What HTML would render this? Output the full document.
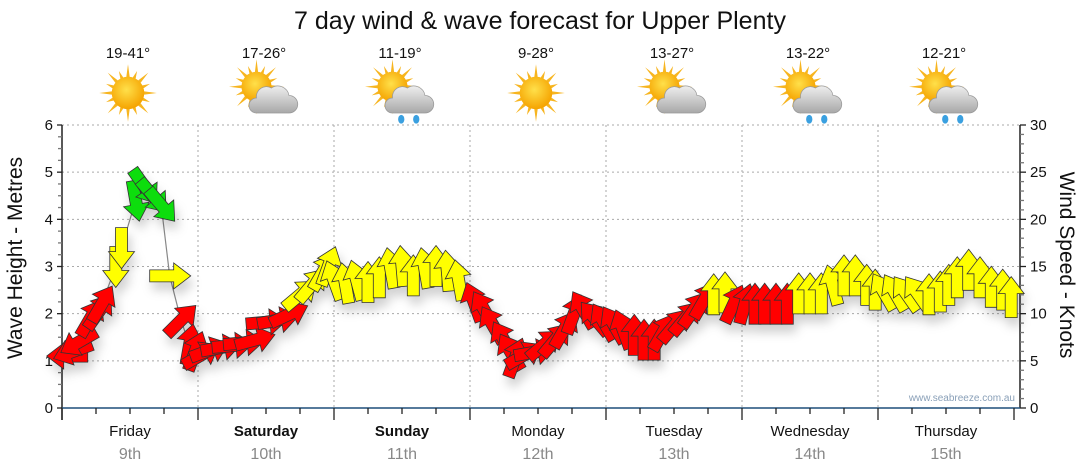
<!DOCTYPE html>
<html><head><meta charset="utf-8">
<style>
html,body{margin:0;padding:0;background:#fff;}
svg{display:block;font-family:"Liberation Sans",Arial,sans-serif;}
</style></head>
<body>
<svg id="chart" width="1080" height="475" viewBox="0 0 1080 475">
<defs>
<filter id="sh" x="-50%" y="-50%" width="200%" height="200%">
<feDropShadow dx="3" dy="8" stdDeviation="5" flood-color="#000" flood-opacity="0.18"/>
</filter>
<radialGradient id="sunG" cx="0.45" cy="0.4" r="0.6"><stop offset="0" stop-color="#ffe04a"/><stop offset="1" stop-color="#f5a300"/></radialGradient>
<linearGradient id="cloudG" x1="0" y1="0" x2="0" y2="1"><stop offset="0" stop-color="#eeeeee"/><stop offset="1" stop-color="#a8a8a8"/></linearGradient>
</defs>
<text x="540" y="29" text-anchor="middle" font-size="25" fill="#111">7 day wind &amp; wave forecast for Upper Plenty</text>
<g id="topg"></g>
<g id="grid"></g>
<g id="axes"></g>
<polyline id="windline" fill="none" stroke="#888" stroke-width="1.2"/>
<g id="arrows" filter="url(#sh)"></g>
<text x="1015" y="401" text-anchor="end" font-size="10" fill="#8aa0b8">www.seabreeze.com.au</text>
<text transform="translate(22,258) rotate(-90)" text-anchor="middle" font-size="21" fill="#111">Wave Height - Metres</text>
<text transform="translate(1060,265) rotate(90)" text-anchor="middle" font-size="21" fill="#111">Wind Speed - Knots</text>
</svg>
<script>
var days=["Friday","Saturday","Sunday","Monday","Tuesday","Wednesday","Thursday"];
var dates=["9th","10th","11th","12th","13th","14th","15th"];
var temps=["19-41°","17-26°","11-19°","9-28°","13-27°","13-22°","12-21°"];
var icons=["sun","suncloud","rain","sun","suncloud","rain","rain"];
var waveTicks=[0,1,2,3,4,5,6];
var windTicks=[0,5,10,15,20,25,30];
var hours=[1,2,3,5,6.5,7,9.5,10.5,13,14.5,16,17.5,19,21,22.5,23.5,
24.5,26,28,30,32,34,36,38,40,42,44,46,47,
48,50,52,54,56,58,60,62,64,66,68,70,
72.7,74.5,76,78,79.2,80,81.5,83.3,85,87,88.6,90.3,92,94,95.6,
97.4,99,101,102.7,104.5,106,108,110,111.5,113.3,115,117,
118.5,120.5,122.3,124,126,128,130,132,134,136,138,140,142,143.5,
145,147,149,151,153,155,156.5,158,160,162,164,166,167.5];
var speeds=[5.5,6,7,9.5,10.2,11,15,17,22,23.5,22.5,21.5,14,9.3,6.7,6,
5.6,6.1,6.4,6.6,6.9,7.2,9.1,9.3,9.9,12,13,14.4,15,
13.5,13.2,13.5,13.3,13.8,14.8,15,14,14.8,15,14.5,13.5,
11.2,10.4,8.8,7.2,5.9,5.3,5.6,5.9,6.7,7.2,8.3,9.9,10.4,9.5,9.1,
8.8,8.3,7.7,7.2,7.2,8,8.7,9.5,10.4,11.4,12,12.2,
11,11,11,11,11,11,12.1,12.1,12.1,13,14,14,13,12.5,
12.3,12.2,12.1,12.1,12,12.3,13,13.8,14.6,13.8,12.8,12.5,11.7];
var dirs=[270,250,240,30,35,30,180,180,170,145,140,140,90,45,10,20,
60,70,80,85,85,75,85,80,65,50,40,30,20,
340,350,345,0,0,350,355,0,350,0,355,350,
340,330,330,330,330,20,60,80,50,40,30,20,330,320,330,
330,340,0,0,0,30,40,40,35,30,0,0,
25,15,0,0,0,0,0,0,0,345,0,0,0,0,
330,330,325,325,0,0,0,0,0,0,0,0,0];

var NS="http://www.w3.org/2000/svg";
var X0=62,DW=136,Y0=408,YT=125;
function xT(h){return X0+h/24*DW;}
function yW(m){return Y0-(Y0-YT)*m/6;}
function yK(k){return Y0-(Y0-YT)*k/30;}
function mk(tag,attrs,parent){var e=document.createElementNS(NS,tag);for(var k in attrs)e.setAttribute(k,attrs[k]);parent.appendChild(e);return e;}
var topG=document.getElementById('topg'),grid=document.getElementById('grid'),axes=document.getElementById('axes');

waveTicks.forEach(function(v){if(v===0)return;
 var l=mk('line',{x1:X0,x2:1020,y1:yW(v),y2:yW(v),stroke:'#aaa','stroke-dasharray':'2,3'},grid);
 
 
});
for(var d=1;d<7;d++){
 var l=mk('line',{x1:X0+d*DW,x2:X0+d*DW,y1:YT,y2:Y0,stroke:'#aaa','stroke-dasharray':'2,3'},grid);
 
 
}
mk('line',{x1:X0,x2:X0,y1:YT,y2:Y0+12,stroke:'#222','stroke-width':1.5},axes);
mk('line',{x1:1020,x2:1020,y1:YT,y2:Y0,stroke:'#222','stroke-width':1.5},axes);
var xa=mk('line',{x1:X0,x2:1020,y1:Y0,y2:Y0,stroke:'#1f4f7a','stroke-width':1.5},axes);


for(var m=0;m<=24;m++){var yy=Y0-(Y0-YT)*m/24;
 mk('line',{x1:X0-(m%4===0?5:4),x2:X0,y1:yy,y2:yy,stroke:m%4===0?'#222':'#777','stroke-width':1.3},axes);}
for(var k=0;k<=30;k++){var yy2=yK(k);
 mk('line',{x1:1020,x2:1020+(k%5===0?6:4),y1:yy2,y2:yy2,stroke:k%5===0?'#222':'#777','stroke-width':1.3},axes);}
waveTicks.forEach(function(v){
 var t=mk('text',{x:X0-9,y:yW(v)+5,'text-anchor':'end','font-size':15,fill:'#111'},axes);t.textContent=v;
 
 
});
windTicks.forEach(function(v){
 var t=mk('text',{x:1030,y:yK(v)+5,'text-anchor':'start','font-size':15,fill:'#111'},axes);t.textContent=v;
 
 
});
for(var h=0;h<=168;h+=6){var xx=xT(h);
 mk('line',{x1:xx,x2:xx,y1:Y0,y2:Y0+(h%24===0?12:6),stroke:'#222','stroke-width':1.3},axes);}
days.forEach(function(dn,i){var cx=X0+i*DW+DW/2;
 var t=mk('text',{x:cx,y:436,'text-anchor':'middle','font-size':15,fill:'#111','font-weight':(i===1||i===2)?'bold':'normal'},axes);t.textContent=dn;
 
 
 var t2=mk('text',{x:cx,y:459,'text-anchor':'middle','font-size':16,fill:'#888'},axes);t2.textContent=dates[i];
 
 
 var t3=mk('text',{x:cx-2,y:58,'text-anchor':'middle','font-size':15,fill:'#111'},topG);t3.textContent=temps[i];
 
 
 var g=mk('g',{transform:'translate('+(cx-2)+',93) scale(1.25)'},topG);
 
 
 var typ=icons[i];
 var sx=typ==='sun'?0:-6, sy=typ==='sun'?0:-5, r=typ==='sun'?13:12;
 for(var a=0;a<16;a++){var ang=a*Math.PI/8, L=(a%2?r+6:r+10);
  var p1=[sx+Math.cos(ang-0.13)*r*0.9,sy+Math.sin(ang-0.13)*r*0.9],p2=[sx+Math.cos(ang)*L,sy+Math.sin(ang)*L],p3=[sx+Math.cos(ang+0.13)*r*0.9,sy+Math.sin(ang+0.13)*r*0.9];
  mk('polygon',{points:p1.join(',')+' '+p2.join(',')+' '+p3.join(','),fill:'#f7b520'},g);}
 mk('circle',{cx:sx,cy:sy,r:r,fill:'url(#sunG)'},g);
 if(typ!=='sun'){
  mk('path',{d:'M-6,16 h26 a7,7 0 0 0 0,-14 a9,9 0 0 0 -14,-6 a8,8 0 0 0 -12,8 a6,6 0 0 0 0,12z',fill:'url(#cloudG)',stroke:'#999','stroke-width':0.6},g);
  if(typ==='rain'){mk('ellipse',{cx:1,cy:21,rx:2.5,ry:3.5,fill:'#3aa0e0'},g);mk('ellipse',{cx:13,cy:21,rx:2.5,ry:3.5,fill:'#3aa0e0'},g);}
 }
});

var pts=hours.map(function(h,i){return xT(h).toFixed(1)+','+yK(speeds[i]).toFixed(1);});
document.getElementById('windline').setAttribute('points',pts.join(' '));
var ag=document.getElementById('arrows');
hours.forEach(function(h,i){
 var s=speeds[i];
 var col=s>=20?'#11dd11':(s>=11.5?'#ffff00':'#ff0000');
 var p=mk('polygon',{points:'0,-21 13,-4 6,-4 6,20 -6,20 -6,-4 -13,-4',fill:col,stroke:'#333','stroke-width':0.8,
  transform:'translate('+xT(h).toFixed(1)+','+yK(s).toFixed(1)+') rotate('+dirs[i]+')'},ag);
 
 
});
</script>
</body></html>
